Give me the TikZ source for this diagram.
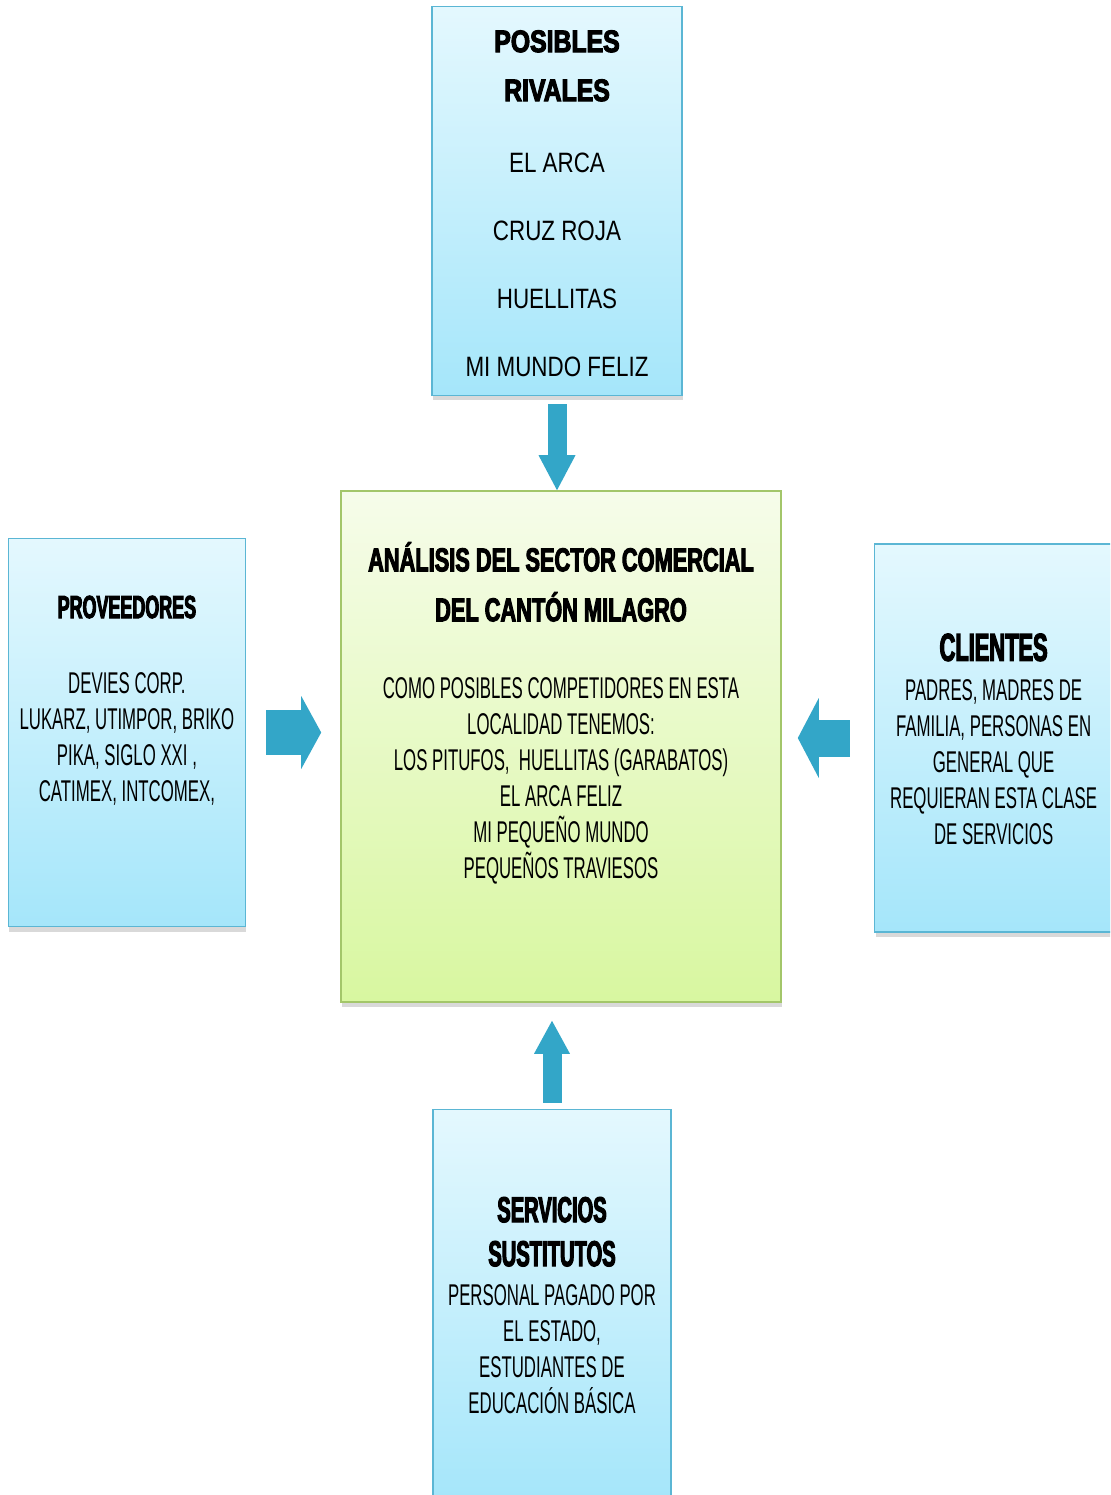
\documentclass[tikz,border=0pt]{standalone}
\usepackage{fontspec}
\setmainfont{Liberation Sans}
\newfontfamily\narrowfont[FakeStretch=0.56, BoldFeatures={FakeBold=3}]{Liberation Sans}
\newfontfamily\titlefont[FakeStretch=0.66, BoldFeatures={FakeBold=3}]{Liberation Sans}
\newfontfamily\semifont[FakeStretch=0.8, BoldFeatures={FakeBold=3.5}]{Liberation Sans}
\usetikzlibrary{positioning, arrows.meta, shadows}

\newcommand{\headsize}[1]{\bfseries\fontsize{#1}{18pt}\selectfont}

\definecolor{bluetop}{HTML}{E4F8FE}
\definecolor{bluebot}{HTML}{A5E6FA}
\definecolor{blueline}{HTML}{5BB6D4}
\definecolor{greentop}{HTML}{F6FCEA}
\definecolor{greenbot}{HTML}{D8F7A0}
\definecolor{greenline}{HTML}{A3C66A}
\definecolor{arrowblue}{HTML}{33A6C8}

\begin{document}
\begin{tikzpicture}[
    x=0.5pt, y=-0.5pt,
    node distance=47pt,
    box/.style={rectangle, line width=0.8pt, inner sep=0pt, drop shadow={shadow xshift=0.5pt, shadow yshift=-2.5pt, opacity=0.3}},
    bluebox/.style={box, draw=blueline, top color=bluetop, bottom color=bluebot, minimum width=119pt, minimum height=194pt},
    greenbox/.style={box, draw=greenline, top color=greentop, bottom color=greenbot, minimum width=220pt, minimum height=255.5pt},
    boxtext/.style={inner sep=0pt, align=center, anchor=north, text=black},
    blockarrow/.style={draw=arrowblue, line cap=butt}
]
    % Frame of the picture
    \useasboundingbox (0,0) rectangle (1110,1495);
    \clip (0,0) rectangle (1110,1495);

    % Central box
    \node[greenbox] (analisis) at (561,746.5) {};
    \node[boxtext, font=\narrowfont\fontsize{15pt}{18pt}\selectfont] (analisistxt) at ([yshift=-25.7pt]analisis.north)
        {{\titlefont\headsize{16.5pt}AN\'ALISIS DEL SECTOR COMERCIAL}\\[7pt]
         {\titlefont\headsize{16.5pt}DEL CANT\'ON MILAGRO}\\[20.5pt]
         COMO POSIBLES COMPETIDORES EN ESTA\\
         LOCALIDAD TENEMOS:\\
         LOS PITUFOS,\ \ HUELLITAS (GARABATOS)\\
         EL ARCA FELIZ\\
         MI PEQUE\~NO MUNDO\\
         PEQUE\~NOS TRAVIESOS};

    % Top: rivals
    \node[bluebox, minimum width=125pt, minimum height=194.5pt, above=47pt of analisis, xshift=-2pt] (rivales) {};
    \node[boxtext, font=\semifont\fontsize{14pt}{34pt}\selectfont] (rivalestxt) at ([yshift=-12.2pt]rivales.north)
        {{\headsize{15.5pt}POSIBLES}\\[-9.5pt]
         {\headsize{15.5pt}RIVALES}\\[1.5pt]
         EL ARCA\\
         CRUZ ROJA\\
         HUELLITAS\\
         MI MUNDO FELIZ};

    % Left: suppliers
    \node[bluebox, minimum width=118.5pt, left=47pt of analisis, yshift=7pt] (proveedores) {};
    \node[boxtext, font=\narrowfont\fontsize{15pt}{18pt}\selectfont] (proveedorestxt) at ([yshift=-28.8pt]proveedores.north)
        {{\headsize{16pt}PROVEEDORES}\\[19.5pt]
         DEVIES CORP.\\
         LUKARZ, UTIMPOR, BRIKO\\
         PIKA, SIGLO XXI ,\\
         CATIMEX, INTCOMEX,};

    % Right: clients
    \node[bluebox, right=46pt of analisis, yshift=4.25pt] (clientes) {};
    \node[boxtext, font=\narrowfont\fontsize{15pt}{18pt}\selectfont] (clientestxt) at ([yshift=-45pt]clientes.north)
        {{\headsize{19.5pt}CLIENTES}\\[2pt]
         PADRES, MADRES DE\\
         FAMILIA, PERSONAS EN\\
         GENERAL QUE\\
         REQUIERAN ESTA CLASE\\
         DE SERVICIOS};

    % Bottom: substitutes
    \node[bluebox, minimum height=196pt, below=53pt of analisis, xshift=-4.5pt] (sustitutos) {};
    \node[boxtext, font=\narrowfont\fontsize{15pt}{18pt}\selectfont] (sustitutostxt) at ([yshift=-43.9pt]sustitutos.north)
        {{\headsize{18pt}SERVICIOS}\\[4pt]
         {\headsize{18pt}SUSTITUTOS}\\[1.5pt]
         PERSONAL PAGADO POR\\
         EL ESTADO,\\
         ESTUDIANTES DE\\
         EDUCACI\'ON B\'ASICA};

    % Block arrows towards the centre
    \draw[blockarrow, line width=9.5pt, -{Triangle[width=18.5pt, length=17.5pt, line width=0pt]}, shorten <=4pt]
        (rivales.south) -- (rivales.south |- analisis.north);
    \draw[blockarrow, line width=22.5pt, -{Triangle[width=36.5pt, length=10pt, line width=0pt]}, shorten <=10pt, shorten >=9.5pt]
        (proveedores.east) -- (proveedores.east -| analisis.west);
    \draw[blockarrow, line width=18.5pt, -{Triangle[width=40pt, length=10.5pt, line width=0pt]}, shorten <=12pt, shorten >=8pt]
        (clientes.west) -- (clientes.west -| analisis.east);
    \draw[blockarrow, line width=9.5pt, -{Triangle[width=18pt, length=16.5pt, line width=0pt]}, shorten <=3pt, shorten >=9pt]
        (sustitutos.north) -- (sustitutos.north |- analisis.south);

\end{tikzpicture}
\end{document}
